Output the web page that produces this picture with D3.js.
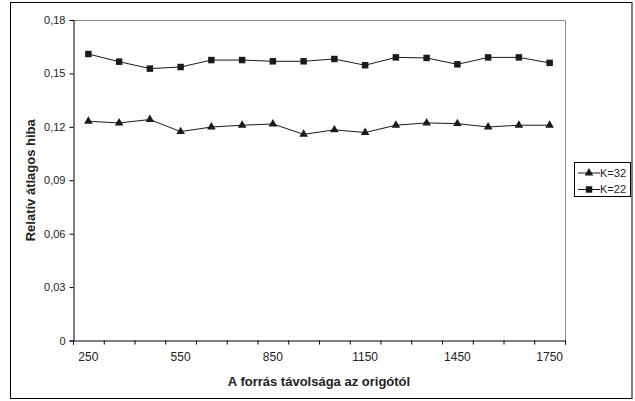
<!DOCTYPE html>
<html>
<head>
<meta charset="utf-8">
<script src="https://cdn.jsdelivr.net/npm/d3@7"></script>
<style>
  body { margin: 0; background: #fff; }
  svg { font-family: "Liberation Sans", Arial, sans-serif; }
</style>
</head>
<body>
<div id="container"></div>
<script>
/* DATA */
const categories = [250, 350, 450, 550, 650, 750, 850, 950, 1050, 1150, 1250, 1350, 1450, 1550, 1650, 1750];
const labelCats = [250, 550, 850, 1150, 1450, 1750];
const k32 = [0.1231, 0.1222, 0.1241, 0.1173, 0.1199, 0.1209, 0.1216, 0.1158, 0.1183, 0.1168, 0.1209, 0.1222, 0.1218, 0.1199, 0.1209, 0.1209];
const k22 = [0.1609, 0.1566, 0.1527, 0.1536, 0.1575, 0.1575, 0.1568, 0.1568, 0.1581, 0.1546, 0.1590, 0.1587, 0.1551, 0.1590, 0.1590, 0.1559];
const yTicks = [0, 0.03, 0.06, 0.09, 0.12, 0.15, 0.18];
const seriesNames = ["K=32", "K=22"];

const width = 635, height = 401;
const plot = { left: 73, right: 565, top: 20, bottom: 340.5 };

const svg = d3.select("#container").append("svg")
  .attr("width", width)
  .attr("height", height);

// outer frame
svg.append("rect")
  .attr("x", 10.5).attr("y", 2.5)
  .attr("width", 621.5).attr("height", 396)
  .attr("fill", "none").attr("stroke", "#000").attr("stroke-width", 1);

/* SCALES */
const x = d3.scaleBand().domain(categories).range([plot.left, plot.right]).padding(0);
const xi = d3.scaleLinear().domain([0, categories.length]).range([plot.left, plot.right]);
const y = d3.scaleLinear().domain([0, 0.18]).range([plot.bottom, plot.top]);

// plot area border (grey top/right)
svg.append("path")
  .attr("d", `M${plot.left},${plot.top + 0.5}H${plot.right + 0.5}V${plot.bottom}`)
  .attr("fill", "none").attr("stroke", "#8c8c8c");

// y axis
const yAxis = svg.append("g")
  .attr("transform", `translate(${plot.left + 0.5},0)`)
  .call(d3.axisLeft(y).tickValues(yTicks).tickSize(4).tickPadding(4)
    .tickFormat(d => d === 0 ? "0" : d.toFixed(2).replace(".", ",")));
yAxis.selectAll(".tick text").style("font-size", "11px");

// x tick marks between categories
const xTickAxis = svg.append("g")
  .attr("transform", `translate(0,${plot.bottom})`)
  .call(d3.axisBottom(xi).tickValues(d3.range(categories.length + 1)).tickSize(4).tickFormat(""));

// x labels
const xAxis = svg.append("g")
  .attr("transform", `translate(0,${plot.bottom})`)
  .call(d3.axisBottom(x).tickValues(labelCats).tickSize(0).tickPadding(12));
xAxis.select(".domain").remove();
xAxis.selectAll(".tick text").style("font-size", "12px");

svg.selectAll(".tick text").attr("fill", "#222");
svg.selectAll(".domain, .tick line").attr("stroke", "#000");

// axis titles
svg.append("text")
  .attr("x", (plot.left + plot.right) / 2)
  .attr("y", 386)
  .attr("text-anchor", "middle")
  .style("font-size", "13px")
  .style("font-weight", "bold")
  .attr("fill", "#222")
  .text("A forrás távolsága az origótól");

svg.append("text")
  .attr("transform", `translate(35,${(plot.top + plot.bottom) / 2}) rotate(-90)`)
  .attr("text-anchor", "middle")
  .style("font-size", "13px")
  .style("font-weight", "bold")
  .attr("fill", "#222")
  .text("Relatív átlagos hiba");

/* LINES */
const line = d3.line()
  .x((d, i) => x(categories[i]) + x.bandwidth() / 2)
  .y(d => y(d));

const tri = d3.symbol().type(d3.symbolTriangle).size(32);
const sq = d3.symbol().type(d3.symbolSquare).size(42);

[[k32, tri], [k22, sq]].forEach(([vals, sym]) => {
  svg.append("path")
    .attr("d", line(vals))
    .attr("fill", "none")
    .attr("stroke", "#1a1a1a")
    .attr("stroke-width", 1);
  svg.selectAll(null)
    .data(vals)
    .join("path")
    .attr("transform", (d, i) => `translate(${x(categories[i]) + x.bandwidth() / 2},${y(d)})`)
    .attr("d", sym())
    .attr("fill", "#1a1a1a");
});

/* LEGEND */
const legend = svg.append("g");
legend.append("rect")
  .attr("x", 574.5).attr("y", 162.5)
  .attr("width", 56).attr("height", 34)
  .attr("fill", "#fff").attr("stroke", "#000");

const legSyms = [tri, sq];
seriesNames.forEach((name, i) => {
  const ly = 173 + i * 16.5;
  legend.append("line")
    .attr("x1", 578).attr("x2", 600)
    .attr("y1", ly).attr("y2", ly)
    .attr("stroke", "#1a1a1a");
  legend.append("path")
    .attr("transform", `translate(589,${ly})`)
    .attr("d", legSyms[i]())
    .attr("fill", "#1a1a1a");
  legend.append("text")
    .attr("x", 600).attr("y", ly)
    .attr("dy", "0.35em")
    .style("font-size", "11px")
    .attr("fill", "#222")
    .text(name);
});
</script>
</body>
</html>
